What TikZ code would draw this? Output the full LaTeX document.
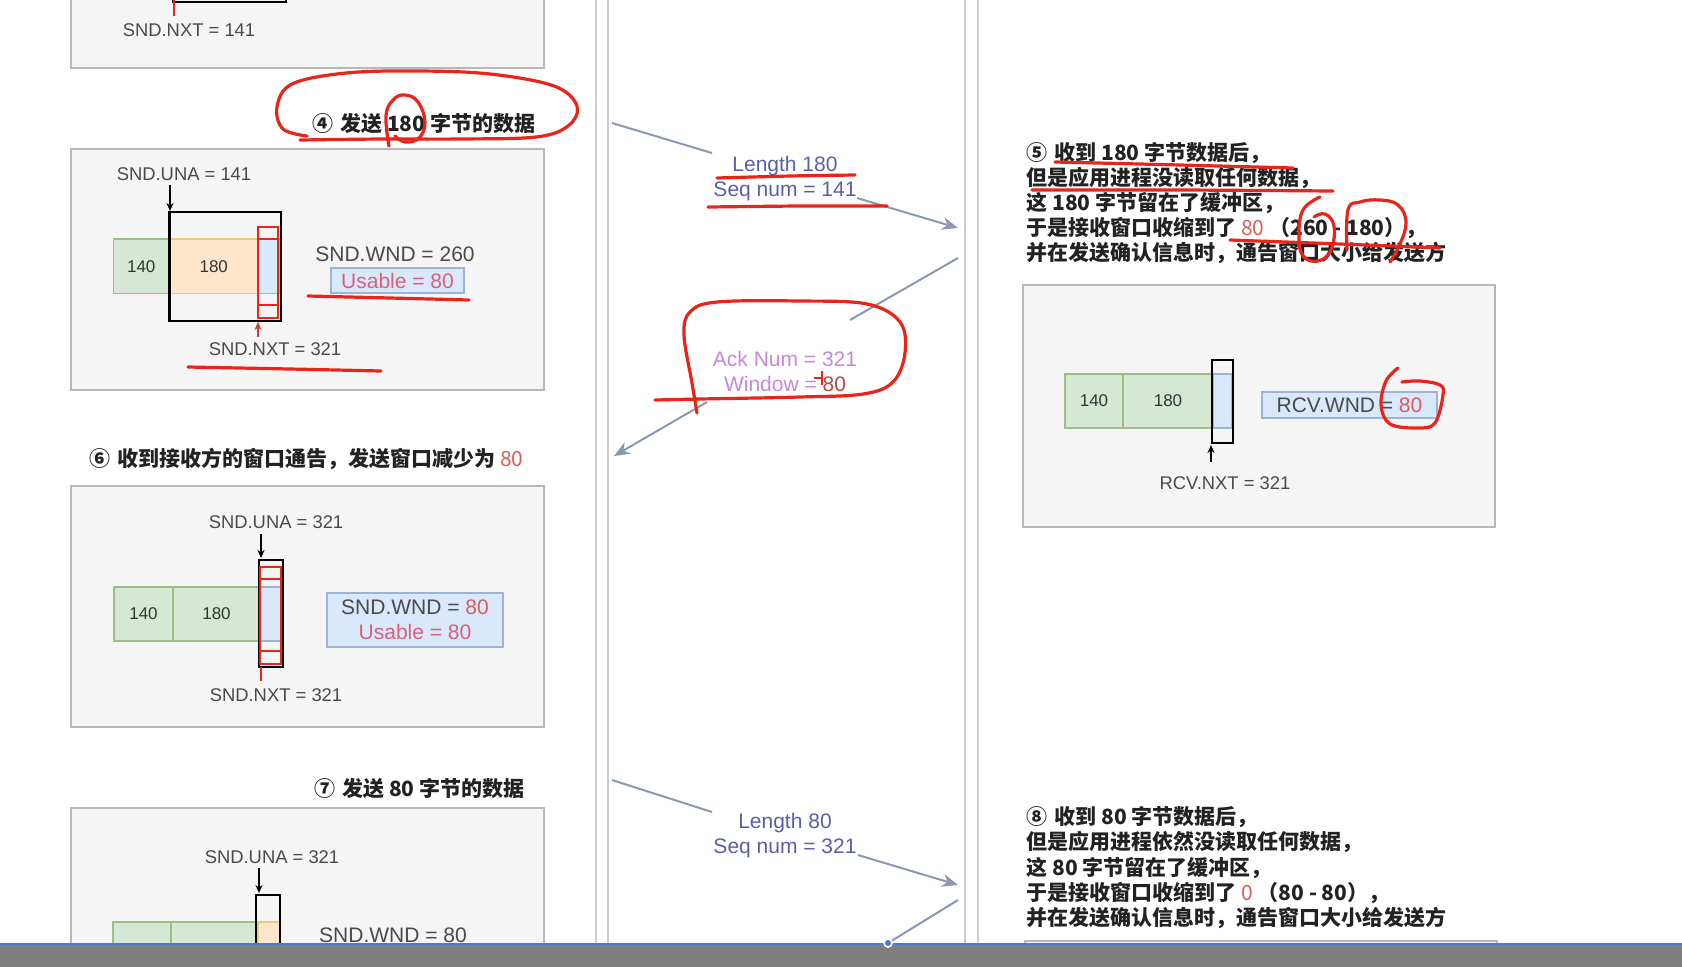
\documentclass[tikz,border=0pt]{standalone}
\usepackage{fontspec}
\setmainfont{Liberation Sans}
\newfontfamily\cjk{Noto Sans CJK SC}
\usetikzlibrary{arrows.meta}
\definecolor{lblc}{HTML}{4A4A4A}
\definecolor{numc}{HTML}{333333}
\definecolor{cjkc}{HTML}{222222}
\definecolor{boxfill}{HTML}{F5F5F5}
\definecolor{boxdraw}{HTML}{B8B8B8}
\definecolor{gfill}{HTML}{D5E8D4}
\definecolor{gdraw}{HTML}{9CBF88}
\definecolor{ofill}{HTML}{FDE6CC}
\definecolor{odraw}{HTML}{E2CF7E}
\definecolor{bfill}{HTML}{DAE8FC}
\definecolor{bdraw}{HTML}{9DB4D6}
\definecolor{penred}{HTML}{E8241B}
\definecolor{redtxt}{HTML}{E05A5A}
\definecolor{usec}{HTML}{D9607A}
\definecolor{seqtxt}{HTML}{5C5FA8}
\definecolor{acktxt}{HTML}{C58AD6}
\definecolor{arrowc}{HTML}{8A98B0}
\definecolor{lifec}{HTML}{CDCDCD}
\definecolor{barc}{HTML}{7F7F7F}
\definecolor{barline}{HTML}{4C7DC4}
\newcommand{\cgap}{\hspace{3.5pt}}
\begin{document}
\begin{tikzpicture}[x=0.5pt,y=-0.5pt,
 panel/.style={draw=boxdraw, fill=boxfill, line width=1pt},
 cellbox/.style={draw, line width=0.6pt, inner sep=0pt, text=numc, font=\fontsize{8.5}{10}\selectfont},
 gcell/.style={cellbox, fill=gfill, draw=gdraw},
 ocell/.style={cellbox, fill=ofill, draw=odraw},
 bcell/.style={cellbox, fill=bfill, draw=bdraw},
 lbl/.style={text=lblc, inner sep=0pt, font=\fontsize{9.2}{11}\selectfont},
 lblbig/.style={text=lblc, inner sep=0pt, font=\fontsize{10.5}{12.5}\selectfont},
 infobox/.style={fill=bfill, draw=bdraw, line width=0.6pt, inner sep=0pt, text=lblc, font=\fontsize{10.5}{12.5}\selectfont, align=center},
 wnd/.style={draw=black, line width=1.4pt},
 redwnd/.style={draw=penred, line width=0.8pt},
 ptr/.style={draw=black, line width=0.6pt, -{Stealth[length=4pt,width=3.5pt]}},
 cjkline/.style={anchor=west, inner sep=0pt, text=cjkc, font=\cjk\bfseries\fontsize{10.5}{12.5}\selectfont, text height=9pt, text depth=1.5pt},
 msg/.style={draw=arrowc, line width=1pt},
 msgtip/.style={msg, -{Stealth[length=8pt,width=6.5pt]}},
 msglbl/.style={align=center, inner sep=0pt, font=\fontsize{10.5}{12.5}\selectfont},
 pen/.style={draw=penred, line width=1.6pt, line cap=round, line join=round},
 life/.style={draw=lifec, line width=1.2pt}]
\useasboundingbox (0,0) rectangle (1682,966);
\clip (0,0) rectangle (1682,966);
\fill[white] (0,0) rectangle (1682,966);

% lifelines
\coordinate (l1t) at (596,-5); \coordinate (l1b) at (596,944);
\coordinate (l2t) at (608,-5); \coordinate (l2b) at (608,944);
\coordinate (r1t) at (965,-5); \coordinate (r1b) at (965,944);
\coordinate (r2t) at (978,-5); \coordinate (r2b) at (978,944);
\draw[life] (l1t) -- (l1b);
\draw[life] (l2t) -- (l2b);
\draw[life] (r1t) -- (r1b);
\draw[life] (r2t) -- (r2b);

% ---------- box 1 (cut) ----------
\draw[panel] (71,-20) rectangle (544,68);
\draw[wnd] (173,-30) rectangle (286,2);
\draw[redwnd] (174,0) -- (174,16);
\node[lbl] (nxt1) at (189,30) {SND.NXT = 141};

% ---------- title 4 ----------
\node[cjkline] (t4) at (312,124) {④\cgap 发送 180 字节的数据};

% ---------- box 2 ----------
\draw[panel] (71,149) rectangle (544,390);
\node[gcell, minimum width=28pt, minimum height=27.25pt] (c2a) at (141.25,266.25) {140};
\node[ocell, minimum width=44.5pt, minimum height=27.25pt] (c2b) at (213.75,266.25) {180};
\node[bcell, minimum width=10.5pt, minimum height=27.25pt] (c2c) at (268.5,266.25) {};
\draw[wnd] (169.5,212) rectangle (281,321);
\draw[redwnd] (258,227) rectangle (278,318);
\draw[redwnd] (258,239) -- (278,239);
\draw[redwnd] (258,305) -- (278,305);
\node[lbl] (una2) at (184,174) {SND.UNA = 141};
\coordinate (a2t) at (170,185); \coordinate (a2b) at (170,211);
\draw[ptr] (a2t) -- (a2b);
\coordinate (n2b) at (258,337); \coordinate (n2t) at (258,322);
\draw[ptr, draw=penred!70!gray] (n2b) -- (n2t);
\node[lbl] (nxt2) at (275,349) {SND.NXT = 321};
\node[lblbig] (wnd2) at (395,254) {SND.WND = 260};
\node[infobox, minimum width=66.5pt, minimum height=12.5pt, text=usec] (use2) at (397.5,280.5) {Usable = 80};

% ---------- title 6 ----------
\node[cjkline] (t6) at (89,459) {⑥\cgap 收到接收方的窗口通告，发送窗口减少为 \textcolor{redtxt}{\mdseries 80}};

% ---------- box 3 ----------
\draw[panel] (71,486) rectangle (544,727);
\node[gcell, minimum width=29.5pt, minimum height=27pt] (c3a) at (143.5,614) {140};
\node[gcell, minimum width=43.5pt, minimum height=27pt] (c3b) at (216.5,614) {180};
\node[bcell, minimum width=10.5pt, minimum height=27pt] (c3c) at (270.5,614) {};
\draw[wnd] (259,560) rectangle (283,667);
\draw[redwnd] (260,567) rectangle (281,664);
\draw[redwnd] (260,579) -- (281,579);
\draw[redwnd] (260,651) -- (281,651);
\node[lbl] (una3) at (276,522) {SND.UNA = 321};
\coordinate (a3t) at (261,534); \coordinate (a3b) at (261,558);
\draw[ptr] (a3t) -- (a3b);
\coordinate (n3t) at (261,667); \coordinate (n3b) at (261,681);
\draw[redwnd] (n3t) -- (n3b);
\node[lbl] (nxt3) at (276,695) {SND.NXT = 321};
\node[infobox, minimum width=88pt, minimum height=27pt] (wnd3) at (415,620)
  {SND.WND = \textcolor{redtxt}{80}\\ \textcolor{usec}{Usable = 80}};

% ---------- title 7 ----------
\node[cjkline] (t7) at (314,789) {⑦\cgap 发送 80 字节的数据};

% ---------- box 4 (cut) ----------
\draw[panel] (71,808) rectangle (544,966);
\node[gcell, minimum width=29pt, minimum height=27pt] (c4a) at (142,949) {};
\node[gcell, minimum width=43.5pt, minimum height=27pt] (c4b) at (214.5,949) {};
\node[ocell, minimum width=11pt, minimum height=27pt] (c4c) at (269,949) {};
\draw[wnd] (256,895) rectangle (280,966);
\node[lbl] (una4) at (272,857) {SND.UNA = 321};
\coordinate (a4t) at (259,868); \coordinate (a4b) at (259,893);
\draw[ptr] (a4t) -- (a4b);
\node[lblbig] (wnd4) at (393,935) {SND.WND = 80};

% ---------- messages ----------
\coordinate (m1s) at (612,123); \coordinate (m1a) at (712,153);
\coordinate (m1b) at (857,198); \coordinate (m1e) at (958,228);
\draw[msg] (m1s) -- (m1a);
\draw[msgtip] (m1b) -- (m1e);
\node[msglbl, text=seqtxt] (m1l) at (785,179) {Length 180\\Seq num = 141};

\coordinate (m2s) at (958,258); \coordinate (m2a) at (850,320);
\coordinate (m2b) at (707,402); \coordinate (m2e) at (614,456);
\draw[msg] (m2s) -- (m2a);
\draw[msgtip] (m2b) -- (m2e);
\node[msglbl, text=acktxt] (m2l) at (785,371) {Ack Num = 321\\Window = \textcolor{redtxt!80!black}{80}};

\coordinate (m3s) at (612,780); \coordinate (m3a) at (712,812);
\coordinate (m3b) at (858,855); \coordinate (m3e) at (958,885);
\draw[msg] (m3s) -- (m3a);
\draw[msgtip] (m3b) -- (m3e);
\node[msglbl, text=seqtxt] (m3l) at (785,836) {Length 80\\Seq num = 321};

\coordinate (m4s) at (958,900); \coordinate (m4e) at (880,948);
\draw[msg] (m4s) -- (m4e);

% ---------- right text 5 ----------
\node[cjkline] (t5a) at (1026,152.5) {⑤\cgap 收到 180 字节数据后，};
\node[cjkline] (t5b) at (1026,177.5) {但是应用进程没读取任何数据，};
\node[cjkline] (t5c) at (1026,202.5) {这 180 字节留在了缓冲区，};
\node[cjkline] (t5d) at (1026,227.5) {于是接收窗口收缩到了 \textcolor{redtxt}{\mdseries 80} （260 - 180），};
\node[cjkline] (t5e) at (1026,252.5) {并在发送确认信息时，通告窗口大小给发送方};

% ---------- right box ----------
\draw[panel] (1023,285) rectangle (1495,527);
\node[gcell, minimum width=29pt, minimum height=27pt] (r1) at (1094,401) {140};
\node[gcell, minimum width=45pt, minimum height=27pt] (r2) at (1168,401) {180};
\node[bcell, minimum width=9.5pt, minimum height=27pt] (r3) at (1222.5,401) {};
\draw[wnd] (1212,360) rectangle (1233,443);
\coordinate (rn1) at (1211,462); \coordinate (rn2) at (1211,445);
\draw[ptr] (rn1) -- (rn2);
\node[lbl] (rnxt) at (1225,483) {RCV.NXT = 321};
\node[infobox, minimum width=87.5pt, minimum height=13pt] (rwnd) at (1349.5,405) {RCV.WND = \textcolor{redtxt}{80}};

% ---------- right text 8 ----------
\node[cjkline] (t8a) at (1026,817) {⑧\cgap 收到 80 字节数据后，};
\node[cjkline] (t8b) at (1026,842) {但是应用进程依然没读取任何数据，};
\node[cjkline] (t8c) at (1026,867.5) {这 80 字节留在了缓冲区，};
\node[cjkline] (t8d) at (1026,892.5) {于是接收窗口收缩到了 \textcolor{redtxt}{\mdseries 0} （80 - 80），};
\node[cjkline] (t8e) at (1026,918) {并在发送确认信息时，通告窗口大小给发送方};
\draw[panel] (1025,941) rectangle (1497,966);

% ---------- hand-drawn pen marks ----------
\draw[pen] plot[smooth, tension=0.6] coordinates {(307,136) (283,129) (277,107) (292,84) (346,73) (418,71) (490,74) (554,86) (577,106) (568,126) (536,137) (460,139) (382,139) (300,140)};
\draw[pen] plot[smooth, tension=0.7] coordinates {(389,146) (386,116) (393,100) (405,95) (418,102) (425,122) (419,138) (405,142) (395,136)};
\draw[pen] plot[smooth] coordinates {(308,296) (390,298) (469,300)};
\draw[pen] plot[smooth] coordinates {(188,367) (290,369) (381,371)};
\draw[pen] plot[smooth] coordinates {(717,178) (790,176) (855,175)};
\draw[pen] plot[smooth] coordinates {(708,207) (800,206) (887,206)};
\draw[pen] plot[smooth, tension=0.6] coordinates {(697,413) (692,383) (684,335) (690,312) (717,302) (800,301) (867,304) (900,322) (905,353) (893,382) (863,394) (800,397) (700,399) (655,400)};
\draw[draw=penred, line width=0.8pt] (822,371) -- (822,385);
\draw[draw=penred, line width=0.8pt] (814,378) -- (821,378);
\draw[pen] plot[smooth] coordinates {(1055,162) (1180,165) (1293,168)};
\draw[pen] plot[smooth] coordinates {(1032,190) (1180,190) (1333,191)};
\draw[pen] plot[smooth] coordinates {(1230,240) (1340,244) (1440,248)};
\draw[pen] plot[smooth, tension=0.7] coordinates {(1320,197) (1303,210) (1299,236) (1303,256) (1318,261) (1331,250) (1334,226) (1325,214) (1314,217)};
\draw[pen] plot[smooth, tension=0.7] coordinates {(1347,250) (1348,210) (1360,202) (1380,200) (1398,205) (1406,222) (1400,244) (1390,262)};
\draw[pen] plot[smooth, tension=0.6] coordinates {(1398,368) (1386,381) (1381,405) (1390,424) (1418,428) (1435,423) (1443,395) (1440,385) (1420,381) (1402,382)};

% ---------- screen bar ----------
\fill[barc] (0,944) rectangle (1682,968);
\draw[draw=barline, line width=1.2pt] (0,944) -- (1682,944);
\filldraw[fill=barline, draw=white, line width=0.8pt] (888,943) circle (4);
\end{tikzpicture}
\end{document}
